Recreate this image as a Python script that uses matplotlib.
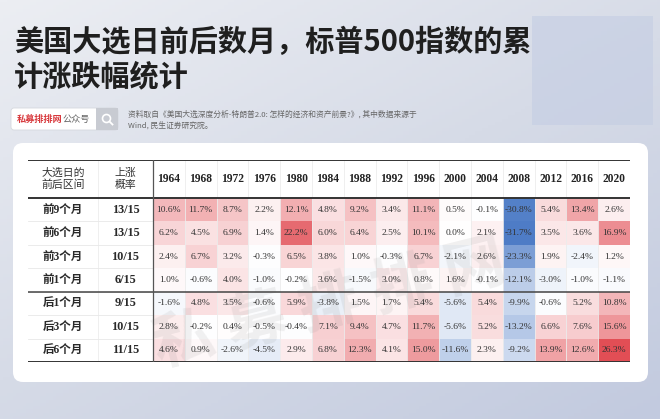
import numpy as np
import matplotlib
matplotlib.use("Agg")
import matplotlib.pyplot as plt
from matplotlib.colors import LinearSegmentedColormap, TwoSlopeNorm
from matplotlib.patches import FancyBboxPatch, Rectangle, Circle

plt.rcParams['font.family'] = ['Noto Sans CJK SC', 'DejaVu Sans']

# 数据
years = ["1964", "1968", "1972", "1976", "1980", "1984", "1988", "1992",
         "1996", "2000", "2004", "2008", "2012", "2016", "2020"]
row_labels = ["前9个月", "前6个月", "前3个月", "前1个月", "后1个月", "后3个月", "后6个月"]
up_prob = ["13/15", "13/15", "10/15", "6/15", "9/15", "10/15", "11/15"]
before_9m = [10.6, 11.7, 8.7, 2.2, 12.1, 4.8, 9.2, 3.4, 11.1, 0.5, -0.1, -30.8, 5.4, 13.4, 2.6]
before_6m = [6.2, 4.5, 6.9, 1.4, 22.2, 6.0, 6.4, 2.5, 10.1, 0.0, 2.1, -31.7, 3.5, 3.6, 16.9]
before_3m = [2.4, 6.7, 3.2, -0.3, 6.5, 3.8, 1.0, -0.3, 6.7, -2.1, 2.6, -23.3, 1.9, -2.4, 1.2]
before_1m = [1.0, -0.6, 4.0, -1.0, -0.2, 3.6, -1.5, 3.0, 0.8, 1.6, -0.1, -12.1, -3.0, -1.0, -1.1]
after_1m = [-1.6, 4.8, 3.5, -0.6, 5.9, -3.8, 1.5, 1.7, 5.4, -5.6, 5.4, -9.9, -0.6, 5.2, 10.8]
after_3m = [2.8, -0.2, 0.4, -0.5, -0.4, 7.1, 9.4, 4.7, 11.7, -5.6, 5.2, -13.2, 6.6, 7.6, 15.6]
after_6m = [4.6, 0.9, -2.6, -4.5, 2.9, 6.8, 12.3, 4.1, 15.0, -11.6, 2.3, -9.2, 13.9, 12.6, 26.3]
values = np.array([before_9m, before_6m, before_3m, before_1m, after_1m, after_3m, after_6m])

title = "美国大选日前后数月，标普500指数的累\n计涨跌幅统计"
source = "资料取自《美国大选深度分析-特朗普2.0: 怎样的经济和资产前景?》, 其中数据来源于\nWind, 民生证券研究院。"

serif_cn = ['Liberation Serif', 'Noto Sans CJK SC']

fig = plt.figure(figsize=(6.6, 4.19), dpi=100)

# 背景
bg = fig.add_axes([0, 0, 1, 1])
bg.set_xlim(0, 660)
bg.set_ylim(419, 0)
bg.axis("off")
gx, gy = np.meshgrid(np.linspace(0, 1, 200), np.linspace(0, 1, 130))
grad = 0.55 * gy + 0.45 * gx
bg_cmap = LinearSegmentedColormap.from_list("bg", ["#eceef3", "#d6dbe7", "#c2cadf"])
bg.imshow(grad, cmap=bg_cmap, extent=[0, 660, 419, 0], aspect="auto", zorder=0)
bg.add_patch(Rectangle((532, 16), 121, 109, facecolor="#c4cde3", alpha=0.6,
                       edgecolor="none", zorder=1))

title_lines = title.split("\n")
bg.text(14, 42, title_lines[0], fontsize=21, fontweight="bold",
        color="#1f1f1f", va="center", ha="left", zorder=3)
bg.text(14, 76, title_lines[1], fontsize=21, fontweight="bold",
        color="#1f1f1f", va="center", ha="left", zorder=3)

# 搜索框
bg.add_patch(FancyBboxPatch((11, 108), 107, 22, boxstyle="round,pad=0,rounding_size=3",
                            facecolor="white", edgecolor="#d5d8de", lw=0.6, zorder=3))
bg.add_patch(Rectangle((96, 108), 22, 22, facecolor="#c8cbd2", edgecolor="none", zorder=4))
bg.add_patch(Circle((106.5, 118.5), 4, facecolor="none", edgecolor="white", lw=1.2, zorder=5))
bg.plot([109.5, 112.5], [121.5, 124.5], color="white", lw=1.3, zorder=5)
bg.text(17, 119.5, "私募排排网", fontsize=6.6, fontweight="bold", color="#d83a3e",
        va="center", ha="left", zorder=5)
bg.text(63, 119.5, "公众号", fontsize=6.6, color="#666666", va="center", ha="left", zorder=5)
bg.text(128, 120, source, fontsize=5.6, color="#666666", va="center", ha="left",
        linespacing=1.45, zorder=3)

# 卡片
bg.add_patch(FancyBboxPatch((13, 143), 635, 239, boxstyle="round,pad=0,rounding_size=10",
                            facecolor="white", edgecolor="none", zorder=2))

# 表格
left, right, top, bottom = 28, 630, 160, 362
tab = fig.add_axes([left / 660, 1 - bottom / 419, (right - left) / 660, (bottom - top) / 419])
tab.set_xlim(left, right)
tab.set_ylim(bottom, top)
tab.axis("off")
tab.patch.set_alpha(0)

header_h = 38
row_h = (bottom - top - header_h) / len(row_labels)
col_w = (right - 153) / len(years)
x_edges = 153 + col_w * np.arange(len(years) + 1)
y_edges = top + header_h + row_h * np.arange(len(row_labels) + 1)

cmap = LinearSegmentedColormap.from_list("rb", ["#4777c4", "#ffffff", "#e0444b"])
norm = TwoSlopeNorm(vmin=-33, vcenter=0, vmax=28)
tab.pcolormesh(x_edges, y_edges, values, cmap=cmap, norm=norm, zorder=1)

# 细网格
for x in x_edges[1:-1]:
    tab.plot([x, x], [top, bottom], color="#ececec", lw=0.6, zorder=2)
tab.plot([98, 98], [top, bottom], color="#ececec", lw=0.6, zorder=2)
for y in y_edges[1:-1]:
    tab.plot([left, 153], [y, y], color="#e8e8e8", lw=0.6, zorder=2)

# 水印
tab.text(330, 305, "私 募 排 排 网", fontsize=44, fontweight="bold", color="#888888",
         alpha=0.12, rotation=14, ha="center", va="center", zorder=3)

# 粗线
tab.plot([left, right], [top, top], color="#333333", lw=1.4, zorder=4)
tab.plot([left, right], [top + header_h, top + header_h], color="#333333", lw=1.4, zorder=4)
tab.plot([left, right], [y_edges[4], y_edges[4]], color="#444444", lw=1.1, zorder=4)
tab.plot([left, right], [bottom, bottom], color="#333333", lw=1.4, zorder=4)
tab.plot([153, 153], [top, bottom], color="#555555", lw=0.9, zorder=4)

# 表头
hy = top + header_h / 2
tab.text(63, hy, "大选日的\n前后区间", fontsize=7.8, color="#333333", ha="center",
         va="center", linespacing=1.25, zorder=5)
tab.text(125.5, hy, "上涨\n概率", fontsize=7.8, color="#333333", ha="center",
         va="center", linespacing=1.25, zorder=5)
for j, yr in enumerate(years):
    tab.text((x_edges[j] + x_edges[j + 1]) / 2, hy, yr, family=serif_cn, fontsize=8.3,
             fontweight="bold", color="#222222", ha="center", va="center", zorder=5)

for i, lab in enumerate(row_labels):
    cy = (y_edges[i] + y_edges[i + 1]) / 2
    tab.text(63, cy, lab, family=serif_cn, fontsize=8.3, fontweight="bold", color="#2a2a2a",
             ha="center", va="center", zorder=5)
    tab.text(125.5, cy, up_prob[i], family=serif_cn, fontsize=8.8, fontweight="bold",
             color="#2a2a2a", ha="center", va="center", zorder=5)
    for j in range(len(years)):
        tab.text((x_edges[j] + x_edges[j + 1]) / 2, cy, f"{values[i, j]:.1f}%",
                 family=serif_cn, fontsize=6.8, color="#333333", ha="center",
                 va="center", zorder=5)

fig.savefig("out.png", dpi=100)
